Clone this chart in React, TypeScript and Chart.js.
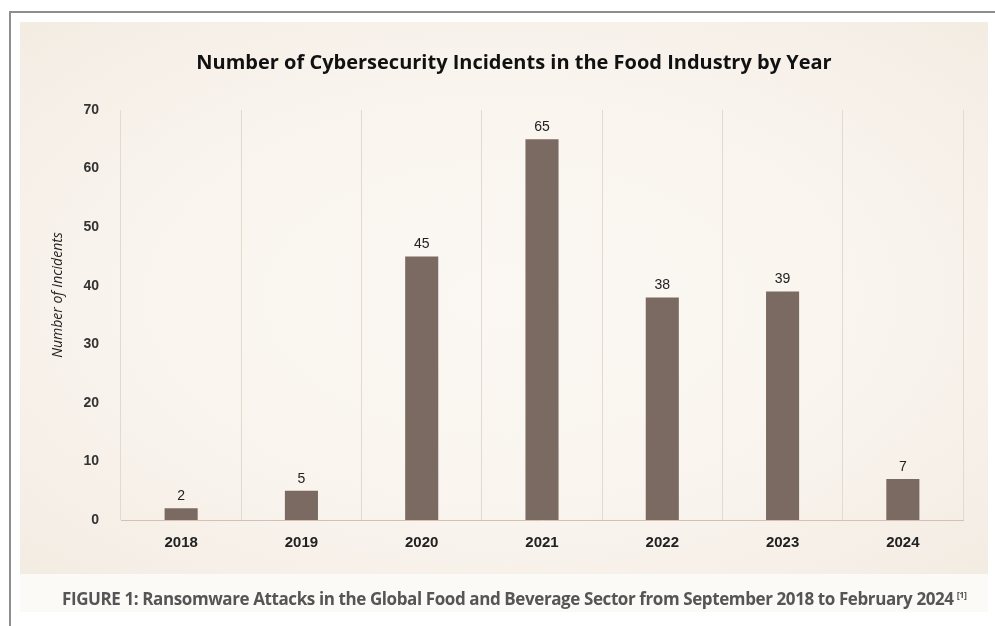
import React, { useEffect, useRef } from "react";
import { Chart, registerables } from "chart.js";

Chart.register(...registerables);

const years = ["2018", "2019", "2020", "2021", "2022", "2023", "2024"];
const incidents = [2, 5, 45, 65, 38, 39, 7];
const yTicks = [0, 10, 20, 30, 40, 50, 60, 70];
const titleText = "Number of Cybersecurity Incidents in the Food Industry by Year";
const yTitleText = "Number of Incidents";
const captionText =
  "FIGURE 1: Ransomware Attacks in the Global Food and Beverage Sector from September 2018 to February 2024";
const captionRef = "[1]";

const valueLabels = {
  id: "valueLabels",
  afterDatasetsDraw(chart: any) {
    const ctx = chart.ctx;
    const meta = chart.getDatasetMeta(0);
    const data = chart.data.datasets[0].data;
    ctx.save();
    ctx.font = "14px 'Liberation Sans', Arial, sans-serif";
    ctx.fillStyle = "#222";
    ctx.textAlign = "center";
    ctx.textBaseline = "middle";
    meta.data.forEach((bar: any, i: number) => {
      ctx.fillText(String(data[i]), bar.x, bar.y - 12);
    });
    ctx.restore();
  },
};

const yTitle = {
  id: "yTitle",
  afterDraw(chart: any) {
    const ctx = chart.ctx;
    ctx.save();
    ctx.translate(58, 295);
    ctx.rotate(-Math.PI / 2);
    ctx.font = "italic 14px 'Open Sans', sans-serif";
    ctx.fillStyle = "#222";
    ctx.textAlign = "center";
    ctx.textBaseline = "middle";
    ctx.fillText(yTitleText, 0, 0);
    ctx.restore();
  },
};

export default function App() {
  const canvasRef = useRef<HTMLCanvasElement | null>(null);

  useEffect(() => {
    if (!canvasRef.current) return;
    const chart = new Chart(canvasRef.current, {
      type: "bar",
      data: {
        labels: years,
        datasets: [
          {
            data: incidents,
            backgroundColor: "#7a6a62",
            barPercentage: 0.55,
            categoryPercentage: 0.5,
          },
        ],
      },
      options: {
        animation: false,
        responsive: false,
        maintainAspectRatio: false,
        layout: { padding: { left: 65, right: 32, top: 0, bottom: 75 } },
        plugins: {
          legend: { display: false },
          tooltip: { enabled: false },
          title: {
            display: true,
            text: titleText,
            color: "#111",
            font: { family: "'Open Sans', sans-serif", size: 20, weight: "bold" },
            padding: { top: 51, bottom: 35 },
          },
        },
        scales: {
          x: {
            offset: true,
            grid: { color: "#e3d9cf", drawTicks: false, offset: true, lineWidth: 1 },
            border: { color: "#d6c0b2", width: 1 },
            ticks: {
              color: "#222",
              padding: 14,
              font: { family: "'Liberation Sans', Arial, sans-serif", size: 15, weight: "bold" },
            },
            afterFit: (s: any) => {
              s.height = 31;
            },
          },
          y: {
            min: 0,
            max: 70,
            grid: { display: false },
            border: { display: false },
            afterBuildTicks: (s: any) => {
              s.ticks = yTicks.map((v) => ({ value: v }));
            },
            ticks: {
              color: "#333",
              padding: 14,
              font: { family: "'Liberation Sans', Arial, sans-serif", size: 14, weight: "bold" },
            },
            afterFit: (s: any) => {
              s.width = 56;
            },
          },
        },
      },
      plugins: [valueLabels, yTitle],
    });
    return () => chart.destroy();
  }, []);

  return (
    <div
      style={{
        position: "fixed",
        left: 0,
        top: 0,
        width: 995,
        height: 626,
        background: "#ffffff",
        overflow: "hidden",
      }}
    >
      <div
        style={{
          position: "absolute",
          left: 9,
          top: 11,
          width: 1000,
          height: 700,
          borderTop: "2px solid #8e8e8e",
          borderLeft: "2px solid #8e8e8e",
        }}
      />
      <div
        style={{
          position: "absolute",
          left: 20,
          top: 22,
          width: 968,
          height: 552,
          background:
            "radial-gradient(ellipse at 50% 50%, #fbf8f3 0%, #f9f4ee 55%, #f3ece3 100%)",
        }}
      />
      <div
        style={{
          position: "absolute",
          left: 20,
          top: 574,
          width: 968,
          height: 38,
          background: "#fcfaf7",
        }}
      />
      <canvas
        ref={canvasRef}
        width={995}
        height={626}
        style={{ position: "absolute", left: 0, top: 0, width: 995, height: 626 }}
      />
      <div
        style={{
          position: "absolute",
          left: 62,
          top: 588,
          whiteSpace: "nowrap",
          fontFamily: "'Open Sans', sans-serif",
          fontWeight: 700,
          fontSize: 17,
          letterSpacing: "-0.4px",
          color: "#555",
          lineHeight: "22px",
        }}
      >
        {captionText}
        <sup style={{ fontSize: 9, marginLeft: 3, verticalAlign: "7px", lineHeight: 0 }}>{captionRef}</sup>
      </div>
    </div>
  );
}
